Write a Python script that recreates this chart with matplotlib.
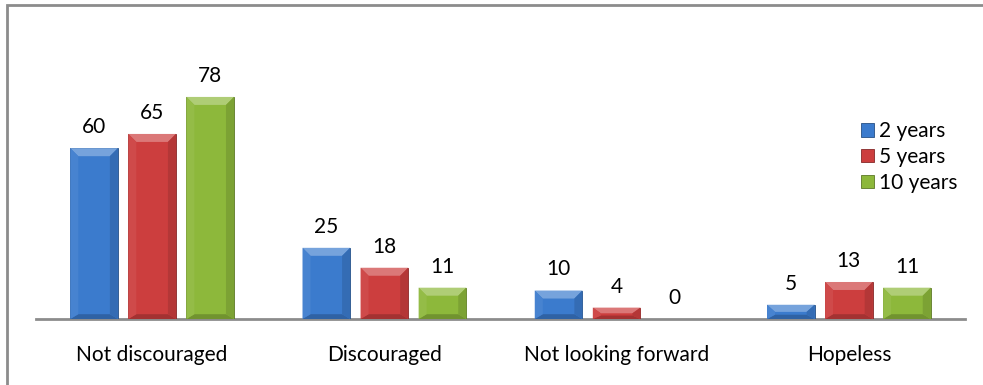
import matplotlib.pyplot as plt
from matplotlib.patches import Polygon, Rectangle
from matplotlib.colors import to_rgb
import numpy as np

categories = ['Not discouraged', 'Discouraged', 'Not looking forward', 'Hopeless']
series = ['2 years', '5 years', '10 years']
values_2y = [60, 25, 10, 5]
values_5y = [65, 18, 4, 13]
values_10y = [78, 11, 0, 11]
colors = ['#3b7bcd', '#cc3e3e', '#8db83b']

plt.rcParams['font.family'] = ['Lato', 'DejaVu Sans']

fig = plt.figure(figsize=(9.83, 3.85), dpi=100)
ax = fig.add_axes([36 / 983, 66 / 385, 929 / 983, 242 / 385])

x = np.arange(len(categories))
width = 0.205
step = 0.25


def lighten(c, f):
    r, g, b = to_rgb(c)
    return (r + (1 - r) * f, g + (1 - g) * f, b + (1 - b) * f)


def darken(c, f):
    r, g, b = to_rgb(c)
    return (r * (1 - f), g * (1 - f), b * (1 - f))


containers = []
for i, (vals, col, name) in enumerate(zip([values_2y, values_5y, values_10y], colors, series)):
    bars = ax.bar(x + (i - 1) * step, vals, width, color=col, label=name,
                  edgecolor=darken(col, 0.35), linewidth=0.6, zorder=3)
    containers.append(bars)

ax.set_xlim(-0.5, 3.5)
ax.set_ylim(0, 85)

# bevel facets on each bar (sizes in pixels turned into data units)
px_x = 4.0 / 929
px_y = 85.0 / 242
bev = 8
for bars, col in zip(containers, colors):
    for p in bars:
        h = p.get_height()
        if h <= 0:
            continue
        x0, w = p.get_x(), p.get_width()
        bx = bev * px_x
        by = min(bev * px_y, h / 2)
        # top facet
        ax.add_patch(Polygon([(x0, h), (x0 + w, h), (x0 + w - bx, h - by), (x0 + bx, h - by)],
                             closed=True, color=lighten(col, 0.3), lw=0, zorder=4))
        # bottom facet
        ax.add_patch(Polygon([(x0, 0), (x0 + w, 0), (x0 + w - bx, by * 0.6), (x0 + bx, by * 0.6)],
                             closed=True, color=darken(col, 0.2), lw=0, zorder=4))
        # right facet
        ax.add_patch(Polygon([(x0 + w, 0), (x0 + w, h), (x0 + w - bx, h - by), (x0 + w - bx, by * 0.6)],
                             closed=True, color=darken(col, 0.12), lw=0, zorder=4))
        # left facet
        ax.add_patch(Polygon([(x0, 0), (x0, h), (x0 + bx, h - by), (x0 + bx, by * 0.6)],
                             closed=True, color=lighten(col, 0.06), lw=0, zorder=4))
    ax.bar_label(bars, padding=8, fontsize=15, color='#000000')

ax.set_xticks(x)
ax.set_xticklabels(categories, fontsize=15, color='#000000')
ax.tick_params(axis='x', length=0, pad=19)
ax.set_yticks([])
for s in ['top', 'right', 'left']:
    ax.spines[s].set_visible(False)
ax.spines['bottom'].set_color('#8c8c8c')
ax.spines['bottom'].set_linewidth(2)

fig.legend(handles=containers, labels=series, loc='upper left',
           bbox_to_anchor=(853 / 983, 1 - 113 / 385), frameon=False,
           fontsize=15, handlelength=0.6, handleheight=0.6,
           handletextpad=0.25, labelspacing=0.28, borderaxespad=0)

# outer frame of the chart area
fig.patches.append(Rectangle((7 / 983, -0.1), 1.2, 1 - 5 / 385 + 0.1,
                             transform=fig.transFigure, fill=False,
                             edgecolor='#8c8c8c', linewidth=2))

fig.savefig('out.png', dpi=100)
